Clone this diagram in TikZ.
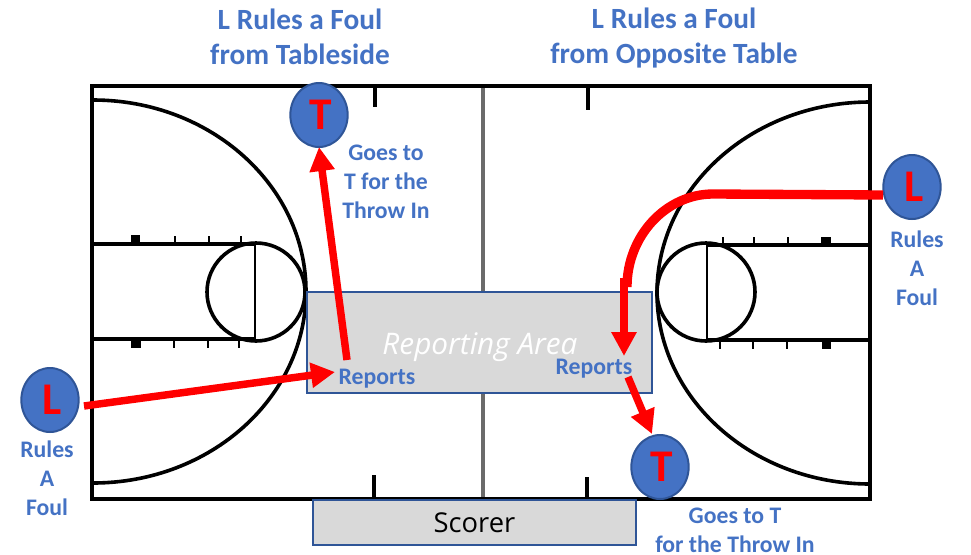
\documentclass[tikz,border=0pt]{standalone}
\usepackage{fontspec}
\setmainfont{Carlito}
\newfontfamily\areafont{Open Sans}
\usepackage{tikz}
\usetikzlibrary{shapes.geometric,arrows.meta,positioning}
\definecolor{refBlue}{HTML}{4472C4}
\definecolor{refEdge}{HTML}{2F5597}
\definecolor{refRed}{HTML}{FF0000}
\definecolor{refFill}{HTML}{D9D9D9}
\definecolor{refMid}{HTML}{6B6B6B}
\newcommand{\refLetter}[1]{\hspace{3pt}\raisebox{-1.5pt}{#1}}

\begin{document}
\begin{tikzpicture}[
          x=0.75pt, y=-0.75pt,
          boxArea/.style={rectangle, draw=refEdge, fill=refFill, line width=1.5pt, inner sep=0pt, outer sep=0pt},
          official/.style={ellipse, draw=refEdge, fill=refBlue, line width=1.5pt, minimum width=43pt, minimum height=48pt, inner sep=0pt, outer sep=0pt, text=refRed, font=\fontsize{34}{34}\selectfont\bfseries},
          title/.style={font=\fontsize{22}{26}\selectfont\bfseries, text=refBlue, align=center},
          note/.style={font=\fontsize{17.8}{21.7}\selectfont\bfseries, text=refBlue, align=center, inner sep=0pt},
          courtLine/.style={draw=black, line width=2.7pt},
          flow/.style={-{Triangle[length=18pt, width=18pt]}, draw=refRed, line width=5.6pt},
          run/.style={draw=refRed, line width=7pt}
        ]
          \useasboundingbox (0,0) rectangle (971,554);
          % arcs and lanes
          \draw[courtLine] (93,100) arc[start angle=-90, end angle=90, x radius=213, y radius=191.5];
          \draw[courtLine] (870,102) arc[start angle=-90, end angle=-270, x radius=213, y radius=191];
          \draw[courtLine] (93,244) -- (255,244) (93,339) -- (255,339);
          \draw[courtLine] (707,245) -- (870,245) (707,340) -- (870,340);
          \draw[courtLine] (256,292) circle[radius=49];
          \draw[courtLine] (706,292) circle[radius=49];
          \draw[draw=black, line width=1.8pt] (255,244) -- (255,339) (707,245) -- (707,340);
          % lane ticks
          \foreach \tx in {175,209,241} \draw[draw=black, line width=1.8pt] (\tx,236) -- (\tx,244);
          \foreach \tx in {174,208,239} \draw[draw=black, line width=1.8pt] (\tx,339) -- (\tx,348);
          \foreach \tx in {723,754,788} \draw[draw=black, line width=1.8pt] (\tx,237) -- (\tx,245);
          \foreach \tx in {720,753,787} \draw[draw=black, line width=1.8pt] (\tx,340) -- (\tx,349);
          \fill (131,235) rectangle (140,244);
          \fill (131,339) rectangle (141,348);
          \fill (821,237) rectangle (831,245);
          \fill (822,340) rectangle (831,349);
          % outer lines
          \draw[draw=refMid, line width=3pt] (483,86) -- (483,499);
          \draw[draw=black, line width=3pt] (92,86) rectangle (870,499);
          \draw[draw=black, line width=3pt] (375,86) -- (375,107) (588,86) -- (588,110);
          \draw[draw=black, line width=3pt] (374,475) -- (374,499) (587,477) -- (587,499);

          \node[boxArea, minimum width=258.5pt, minimum height=75.5pt] (area) at (479.5,342.5) {};
          \node[text=white, font=\areafont\fontsize{22.3}{22.3}\selectfont\itshape] (areaText) at (480,347) {Reporting Area};
          \node[boxArea, minimum width=242pt, minimum height=34pt] (scorer) at (474.5,522.5) {\areafont\fontsize{20.5}{20.5}\selectfont Scorer};

          \node[title] (titleTable) at (300,37) {L Rules a Foul\\from Tableside};
          \node[title] (titleOpp) at (674,38) {L Rules a Foul\\from Opposite Table};

          \node[official] (tableT) at (319,115) {\refLetter{T}};
          \node[official] (tableL) at (50,400) {\refLetter{L}};
          \node[official] (oppL) at (912,187) {\refLetter{L}};
          \node[official] (oppT) at (660,467) {\refLetter{T}};

          \node[note] (tableRules) at (47,478) {Rules\\A\\Foul};
          \node[note] (tableGoes) at (386,182) {Goes to\\T for the\\Throw In};
          \node[note] (tableReports) at (377,379) {Reports};
          \node[note] (oppRules) at (917,268) {Rules\\A\\Foul};
          \node[note] (oppGoes) at (735,530) {Goes to T\\for the Throw In};
          \node[note] (oppReports) at (594,369) {Reports};

          \coordinate (tableFrom) at (84,406);
          \coordinate (tableTo) at (335,372);
          \coordinate (tableBack) at (347,360);
          \coordinate (oppFrom) at (883,195);
          \coordinate (curveStart) at (713,194);
          \coordinate (curveEnd) at (627,287);
          \coordinate (oppDown) at (624,278);
          \coordinate (oppTo) at (624,356);
          \coordinate (oppBack) at (628,377);
          \coordinate (oppTip) at (652,434);

          \draw[flow] (tableFrom) -- (tableTo);
          \draw[flow] (tableBack) -- (tableT.south);
          \draw[run] (oppFrom) -- (curveStart) .. controls (666,194) and (627,236) .. (curveEnd);
          \draw[flow] (oppDown) -- (oppTo);
          \draw[flow] (oppBack) -- (oppTip);
        \end{tikzpicture}
\end{document}
